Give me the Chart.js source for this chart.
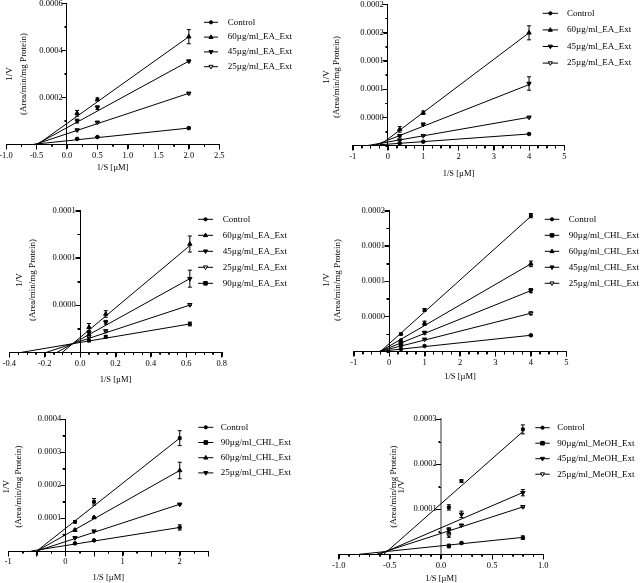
<!DOCTYPE html>
<html>
<head>
<meta charset="utf-8">
<script src="https://cdn.jsdelivr.net/npm/chart.js@4.4.1/dist/chart.umd.min.js"></script>
<style>
  html, body { margin: 0; padding: 0; background: #fff; width: 644px; height: 583px; overflow: hidden; position: relative; }
  canvas { position: absolute; }
</style>
</head>
<body>
<canvas id="c1"></canvas>
<canvas id="c2"></canvas>
<canvas id="c3"></canvas>
<canvas id="c4"></canvas>
<canvas id="c5"></canvas>
<canvas id="c6"></canvas>
<script>
// ---- data (1/S in µM^-1, 1/V in Area/min/mg protein) ----

// panel 1: EA extract
const names1 = ['Control', '60µg/ml_EA_Ext', '45µg/ml_EA_Ext', '25µg/ml_EA_Ext'];
const x1 = [0.167, 0.5, 2.0];
const mean1 = [[0.000023, 0.000031, 0.000069], [0.000132, 0.000191, 0.000458], [0.0000991, 0.000156, 0.000354], [0.0000609, 0.0000936, 0.000217]];
const sem1 = [[0.000001, 0.000001, 0.000003], [0.000012, 0.000006, 0.00003], [0.000008, 0.000008, 0.000003], [0.000003, 0.000003, 0.000003]];
const fitFrom1 = [-0.55, -0.48, -0.5, -0.52];
const fitTo1 = [0.000069, 0.000458, 0.000354, 0.000217];
const xTickAt1 = [-1, -0.5, 0, 0.5, 1, 1.5, 2, 2.5];
const xTickText1 = ['-1.0', '-0.5', '0.0', '0.5', '1.0', '1.5', '2.0', '2.5'];
const yTickAt1 = [0.0002, 0.0004, 0.0006];
const yTickText1 = ['0.0002', '0.0004', '0.0006'];

// panel 2: EA extract
const names2 = ['Control', '60µg/ml_EA_Ext', '45µg/ml_EA_Ext', '25µg/ml_EA_Ext'];
const x2 = [0.333, 1, 4];
const mean2 = [[0.0000042, 0.0000071, 0.0000207], [0.000029, 0.0000583, 0.0001996], [0.0000177, 0.0000378, 0.00011], [0.00001, 0.0000177, 0.0000502]];
const sem2 = [[0.000001, 0.000001, 0.000001], [0.000005, 0.000003, 0.0000124], [0.000002, 0.000002, 0.0000118], [0.000001, 0.000001, 0.000001]];
const fitFrom2 = [-0.6, -0.25, -0.4, -0.6];
const fitTo2 = [0.0000207, 0.0001996, 0.000108, 0.0000502];
const xTickAt2 = [-1, 0, 1, 2, 3, 4, 5];
const xTickText2 = ['-1', '0', '1', '2', '3', '4', '5'];
const yTickAt2 = [0.00005, 0.0001, 0.00015, 0.0002, 0.00025];
const yTickText2 = ['0.0000', '0.0001', '0.0001', '0.0002', '0.0002'];

// panel 3: EA extract
const names3 = ['Control', '60µg/ml_EA_Ext', '45µg/ml_EA_Ext', '25µg/ml_EA_Ext', '90µg/ml_EA_Ext'];
const x3 = [0.05, 0.145, 0.62];
const mean3 = [[], [0.0000265, 0.0000406, 0.0001147], [0.0000208, 0.0000318, 0.000078], [0.0000165, 0.0000226, 0.0000504], [0.0000123, 0.0000165, 0.00003]];
const sem3 = [[], [0.000004, 0.0000035, 0.0000085], [0.000002, 0.000002, 0.000009], [0.000001, 0.000001, 0.000001], [0.000001, 0.000001, 0.000002]];
const fitFrom3 = [null, -0.1, -0.13, -0.19, -0.33];
const fitTo3 = [null, 0.000113, 0.000078, 0.00005, 0.00003];
const xTickAt3 = [-0.4, -0.2, 0, 0.2, 0.4, 0.6, 0.8];
const xTickText3 = ['-0.4', '-0.2', '0.0', '0.2', '0.4', '0.6', '0.8'];
const yTickAt3 = [0.00005, 0.0001, 0.00015];
const yTickText3 = ['0.0000', '0.0001', '0.0001'];

// panel 4: CHL extract
const names4 = ['Control', '90µg/ml_CHL_Ext', '60µg/ml_CHL_Ext', '45µg/ml_CHL_Ext', '25µg/ml_CHL_Ext'];
const x4 = [0.333, 1, 4];
const mean4 = [[0.0000038, 0.0000081, 0.0000233], [0.0000251, 0.0000592, 0.000193], [0.0000156, 0.0000403, 0.0001246], [0.0000109, 0.000027, 0.0000866], [0.0000081, 0.0000176, 0.0000545]];
const sem4 = [[0, 0, 0.000001], [0.000001, 0.000002, 0.000003], [0.000002, 0.000003, 0.000004], [0.000001, 0.000002, 0.000003], [0.000001, 0.000001, 0.000002]];
const fitFrom4 = [-0.35, -0.25, -0.27, -0.28, -0.3];
const fitTo4 = [0.0000233, 0.000192, 0.0001246, 0.0000866, 0.0000545];
const xTickAt4 = [-1, 0, 1, 2, 3, 4, 5];
const xTickText4 = ['-1', '0', '1', '2', '3', '4', '5'];
const yTickAt4 = [0.00005, 0.0001, 0.00015, 0.0002];
const yTickText4 = ['0.0000', '0.0001', '0.0001', '0.0002'];

// panel 5: CHL extract
const names5 = ['Control', '90µg/ml_CHL_Ext', '60µg/ml_CHL_Ext', '25µg/ml_CHL_Ext'];
const x5 = [0.167, 0.5, 2];
const mean5 = [[0.0000232, 0.0000322, 0.0000714], [0.0000883, 0.000149, 0.000342], [0.0000633, 0.0001015, 0.000244], [0.00004, 0.0000602, 0.0001416]];
const sem5 = [[0.000002, 0.000002, 0.000008], [0.000003, 0.00001, 0.0000226], [0.000003, 0.000002, 0.000025], [0.000001, 0.000001, 0.000002]];
const fitFrom5 = [-0.6, -0.5, -0.5, -0.5];
const fitTo5 = [0.0000714, 0.000342, 0.000244, 0.0001416];
const xTickAt5 = [-1, -0.5, 0, 0.5, 1, 1.5, 2, 2.5];
const xTickText5 = ['-1', '', '0', '', '1', '', '2', ''];
const yTickAt5 = [0.0001, 0.0002, 0.0003, 0.0004];
const yTickText5 = ['0.0001', '0.0002', '0.0003', '0.0004'];

// panel 6: MeOH extract
const names6 = ['Control', '90µg/ml_MeOH_Ext', '45µg/ml_MeOH_Ext', '25µg/ml_MeOH_Ext'];
const x6 = [0.077, 0.2, 0.8];
const mean6 = [[0.0000184, 0.000025, 0.0000368], [0.000104, 0.0001625, 0.000277], [0.0000539, 0.0000887, 0.0001366], [0.0000428, 0.0000643, 0.0001055]];
const sem6 = [[0.000004, 0.000002, 0.000004], [0.000006, 0.000003, 0.00001], [0.000005, 0.000007, 0.000007], [0.000005, 0.000002, 0.000002]];
const fitFrom6 = [-0.8, -0.56, -0.6, -0.63];
const fitTo6 = [0.0000375, 0.000272, 0.000137, 0.000105];
const xTickAt6 = [-1, -0.5, 0, 0.5, 1];
const xTickText6 = ['-1.0', '-0.5', '0.0', '0.5', '1.0'];
const yTickAt6 = [0.0001, 0.0002, 0.0003];
const yTickText6 = ['0.0001', '0.0002', '0.0003'];

// ---- drawing ----
const FONT = 'Liberation Serif';
Chart.defaults.font.family = FONT;
Chart.defaults.font.size = 8.5;
Chart.defaults.color = '#000';

function marker(name, openLow) {
  if (name === 'Control') return { pointStyle: 'circle', radius: 1.8, rotation: 0, fill: '#000' };
  if (name.startsWith('90')) return { pointStyle: 'rect', radius: 2, rotation: 0, fill: '#000' };
  if (name.startsWith('60')) return { pointStyle: 'triangle', radius: 2.5, rotation: 0, fill: '#000' };
  if (name.startsWith('45')) return { pointStyle: 'triangle', radius: 2.5, rotation: 180, fill: '#000' };
  return { pointStyle: 'triangle', radius: 2.5, rotation: 180, fill: openLow ? '#fff' : '#000' };
}

function drawMark(ctx, m, x, y, r) {
  ctx.save();
  ctx.translate(x, y);
  ctx.rotate(m.rotation * Math.PI / 180);
  ctx.beginPath();
  if (m.pointStyle === 'circle') ctx.arc(0, 0, r, 0, Math.PI * 2);
  else if (m.pointStyle === 'rect') ctx.rect(-r, -r, 2 * r, 2 * r);
  else { ctx.moveTo(0, -r); ctx.lineTo(r * 0.9, r * 0.6); ctx.lineTo(-r * 0.9, r * 0.6); ctx.closePath(); }
  ctx.fillStyle = m.fill;
  ctx.fill();
  ctx.strokeStyle = '#000';
  ctx.lineWidth = 1;
  ctx.stroke();
  ctx.restore();
}

const errorBars = {
  id: 'errorBars',
  afterDatasetsDraw(chart) {
    const { ctx } = chart;
    const xs = chart.scales.x, ys = chart.scales.y;
    ctx.save();
    ctx.strokeStyle = '#000';
    ctx.lineWidth = 1;
    chart.data.datasets.forEach(ds => {
      if (!ds.errors) return;
      ds.data.forEach((p, j) => {
        const e = ds.errors[j];
        if (!e) return;
        const px = xs.getPixelForValue(p.x);
        const t = ys.getPixelForValue(p.y + e), b = ys.getPixelForValue(p.y - e);
        ctx.beginPath();
        ctx.moveTo(px, t); ctx.lineTo(px, b);
        ctx.moveTo(px - 2, t); ctx.lineTo(px + 2, t);
        ctx.moveTo(px - 2, b); ctx.lineTo(px + 2, b);
        ctx.stroke();
      });
    });
    ctx.restore();
  }
};

// tick marks on the crossing axes, taken from each scale's own ticks
const tickMarks = {
  id: 'tickMarks',
  afterDraw(chart) {
    const { ctx, scales } = chart;
    const x0 = scales.x.getPixelForValue(0), y0 = scales.y.getPixelForValue(0);
    ctx.save();
    ctx.strokeStyle = '#000';
    ctx.lineWidth = 1;
    ctx.beginPath();
    ['x', 'xm'].forEach(id => {
      const s = scales[id], len = s.options.grid.tickLength;
      s.ticks.forEach(t => {
        const px = Math.round(s.getPixelForValue(t.value)) + 0.5;
        ctx.moveTo(px, y0); ctx.lineTo(px, y0 + len);
      });
    });
    ['y', 'ym'].forEach(id => {
      const s = scales[id], len = s.options.grid.tickLength;
      s.ticks.forEach(t => {
        const py = Math.round(s.getPixelForValue(t.value)) + 0.5;
        ctx.moveTo(x0, py); ctx.lineTo(x0 - len, py);
      });
    });
    ctx.stroke();
    ctx.restore();
  }
};

const sideLegend = {
  id: 'sideLegend',
  afterDraw(chart, args, o) {
    const { ctx } = chart;
    ctx.save();
    ctx.font = '9px "' + FONT + '"';
    ctx.textBaseline = 'middle';
    chart.data.datasets.filter(d => d.marker).forEach((d, i) => {
      const y = o.y + i * o.dy;
      ctx.strokeStyle = '#000';
      ctx.lineWidth = 1;
      ctx.beginPath(); ctx.moveTo(o.x0, y); ctx.lineTo(o.x1, y); ctx.stroke();
      drawMark(ctx, d.marker, (o.x0 + o.x1) / 2, y, d.marker.radius * 0.9);
      ctx.fillStyle = '#000';
      ctx.fillText(d.label, o.tx, y);
    });
    ctx.restore();
  }
};

const yTitle = {
  id: 'yTitle',
  afterDraw(chart, args, o) {
    const { ctx } = chart;
    ctx.save();
    ctx.font = '9px "' + FONT + '"';
    ctx.fillStyle = '#000';
    ctx.textAlign = 'center';
    ctx.textBaseline = 'middle';
    [[o.x1, '1/V'], [o.x2, '(Area/min/mg Protein)']].forEach(([x, t]) => {
      ctx.save(); ctx.translate(x, o.y); ctx.rotate(-Math.PI / 2); ctx.fillText(t, 0, 0); ctx.restore();
    });
    ctx.restore();
  }
};

function tickGrid(len) {
  return { drawOnChartArea: false, drawTicks: true, tickLength: len, color: '#000' };
}

function makePanel(id, p) {
  const [L, T, R, B] = p.area;
  const left = Math.floor(L - 45), top = Math.floor(T - 12);
  const width = p.cellRight - left, height = Math.ceil(B + 40 - top);
  const cv = document.getElementById(id);
  cv.width = width; cv.height = height;
  cv.style.left = left + 'px'; cv.style.top = top + 'px';

  const datasets = [];
  p.names.forEach((name, i) => {
    const m = marker(name, p.openLow);
    datasets.push({
      type: 'scatter', label: name, marker: m,
      data: p.mean[i].map((v, j) => ({ x: p.x[j], y: v })),
      errors: p.sem[i], showLine: false,
      pointStyle: m.pointStyle, pointRadius: m.radius, pointRotation: m.rotation,
      pointBackgroundColor: m.fill, pointBorderColor: '#000', pointBorderWidth: 1, order: 0
    });
    if (p.fitFrom[i] !== null) {
      datasets.push({
        type: 'line',
        data: [{ x: p.fitFrom[i], y: 0 }, { x: p.x[p.x.length - 1], y: p.fitTo[i] }],
        borderColor: '#000', borderWidth: 1, pointRadius: 0, fill: false, order: 1
      });
    }
  });

  const xMin = p.xTickAt[0], xMax = p.xTickAt[p.xTickAt.length - 1];
  const yMax = p.yTickAt[p.yTickAt.length - 1];
  const lg = p.legend, yt = p.ytitle;

  new Chart(cv, {
    type: 'scatter',
    data: { datasets },
    plugins: [errorBars, tickMarks, sideLegend, yTitle],
    options: {
      responsive: false,
      animation: false,
      devicePixelRatio: 1,
      layout: { padding: { left: L - left, top: T - top, right: width - (R - left), bottom: height - (B - top) } },
      plugins: {
        legend: { display: false },
        tooltip: { enabled: false },
        sideLegend: { x0: lg.x0 - left, x1: lg.x1 - left, tx: lg.tx - left, y: lg.y - top, dy: lg.dy },
        yTitle: { x1: yt.x1 - left, x2: yt.x2 - left, y: yt.y - top }
      },
      scales: {
        x: {
          type: 'linear', position: { y: 0 }, min: xMin, max: xMax,
          afterBuildTicks: s => { s.ticks = p.xTickAt.map(v => ({ value: v })); },
          ticks: { callback: (v, i) => p.xTickText[i], autoSkip: false, maxRotation: 0, padding: 1.5 },
          grid: tickGrid(4.5),
          border: { color: '#000', width: 1 },
          title: { display: true, text: '1/S [µM]', padding: { top: p.xTitlePad, bottom: 0 } }
        },
        xm: {
          type: 'linear', position: { y: 0 }, min: xMin, max: xMax,
          ticks: { stepSize: p.xMinor, display: false },
          grid: tickGrid(2.5),
          border: { display: false }
        },
        y: {
          type: 'linear', position: { x: 0 }, min: 0, max: yMax,
          afterBuildTicks: s => { s.ticks = p.yTickAt.map(v => ({ value: v })); },
          ticks: { callback: (v, i) => p.yTickText[i] + '  ', autoSkip: false },
          grid: tickGrid(4.5),
          border: { color: p.yAxisColor || '#000', width: p.yAxisWidth || 1 }
        },
        ym: {
          type: 'linear', position: { x: 0 }, min: 0, max: yMax,
          ticks: { stepSize: p.yMinor, display: false },
          grid: tickGrid(2.5),
          border: { display: false }
        }
      }
    }
  });
}

makePanel('c1', {
  names: names1, x: x1, mean: mean1, sem: sem1, fitFrom: fitFrom1, fitTo: fitTo1,
  xTickAt: xTickAt1, xTickText: xTickText1, yTickAt: yTickAt1, yTickText: yTickText1,
  xMinor: 0.25, yMinor: 0.0001, openLow: true,
  area: [6, 3.3, 219.3, 144.3], cellRight: 322, xTitlePad: 1,
  legend: { x0: 204, x1: 218, tx: 227.7, y: 22.3, dy: 14.8 },
  ytitle: { x1: 10, x2: 24, y: 74 }
});
makePanel('c2', {
  names: names2, x: x2, mean: mean2, sem: sem2, fitFrom: fitFrom2, fitTo: fitTo2,
  xTickAt: xTickAt2, xTickText: xTickText2, yTickAt: yTickAt2, yTickText: yTickText2,
  xMinor: 0.25, yMinor: 0.000025, openLow: true,
  area: [352.7, 4.3, 564.3, 145.7], cellRight: 644, xTitlePad: 5.7,
  legend: { x0: 542.7, x1: 558, tx: 567, y: 13.3, dy: 16.6 },
  ytitle: { x1: 327, x2: 337, y: 77 }
});
makePanel('c3', {
  names: names3, x: x3, mean: mean3, sem: sem3, fitFrom: fitFrom3, fitTo: fitTo3,
  xTickAt: xTickAt3, xTickText: xTickText3, yTickAt: yTickAt3, yTickText: yTickText3,
  xMinor: 0.05, yMinor: 0.000025, openLow: true,
  area: [9.3, 210.7, 221.7, 352.3], cellRight: 322, xTitlePad: 4.7,
  legend: { x0: 198, x1: 213, tx: 222.7, y: 219.3, dy: 16 },
  ytitle: { x1: 20, x2: 33, y: 280 }
});
makePanel('c4', {
  names: names4, x: x4, mean: mean4, sem: sem4, fitFrom: fitFrom4, fitTo: fitTo4,
  xTickAt: xTickAt4, xTickText: xTickText4, yTickAt: yTickAt4, yTickText: yTickText4,
  xMinor: 0.25, yMinor: 0.000025, openLow: true,
  area: [353.7, 210.7, 566.3, 351.7], cellRight: 644, xTitlePad: 2,
  legend: { x0: 544.7, x1: 559.3, tx: 568.7, y: 219.3, dy: 16 },
  ytitle: { x1: 327, x2: 338, y: 280 }
});
makePanel('c5', {
  names: names5, x: x5, mean: mean5, sem: sem5, fitFrom: fitFrom5, fitTo: fitTo5,
  xTickAt: xTickAt5, xTickText: xTickText5, yTickAt: yTickAt5, yTickText: yTickText5,
  xMinor: 0.25, yMinor: 0.00005, openLow: false,
  area: [8.3, 419, 208.3, 551], cellRight: 322, xTitlePad: 3.7,
  legend: { x0: 198.3, x1: 213.3, tx: 220.7, y: 427.3, dy: 15.2 },
  ytitle: { x1: 6.7, x2: 18.3, y: 486.7 }
});
makePanel('c6', {
  names: names6, x: x6, mean: mean6, sem: sem6, fitFrom: fitFrom6, fitTo: fitTo6,
  xTickAt: xTickAt6, xTickText: xTickText6, yTickAt: yTickAt6, yTickText: yTickText6,
  xMinor: 0.1, yMinor: 0.00005, openLow: true,
  area: [338.7, 419, 543.3, 554.3], cellRight: 644, xTitlePad: 2,
  legend: { x0: 535.3, x1: 549.7, tx: 557.3, y: 427.7, dy: 15.5 },
  ytitle: { x1: 402, x2: 394, y: 486.7 },
  yAxisColor: '#999', yAxisWidth: 2
});
</script>
</body>
</html>
